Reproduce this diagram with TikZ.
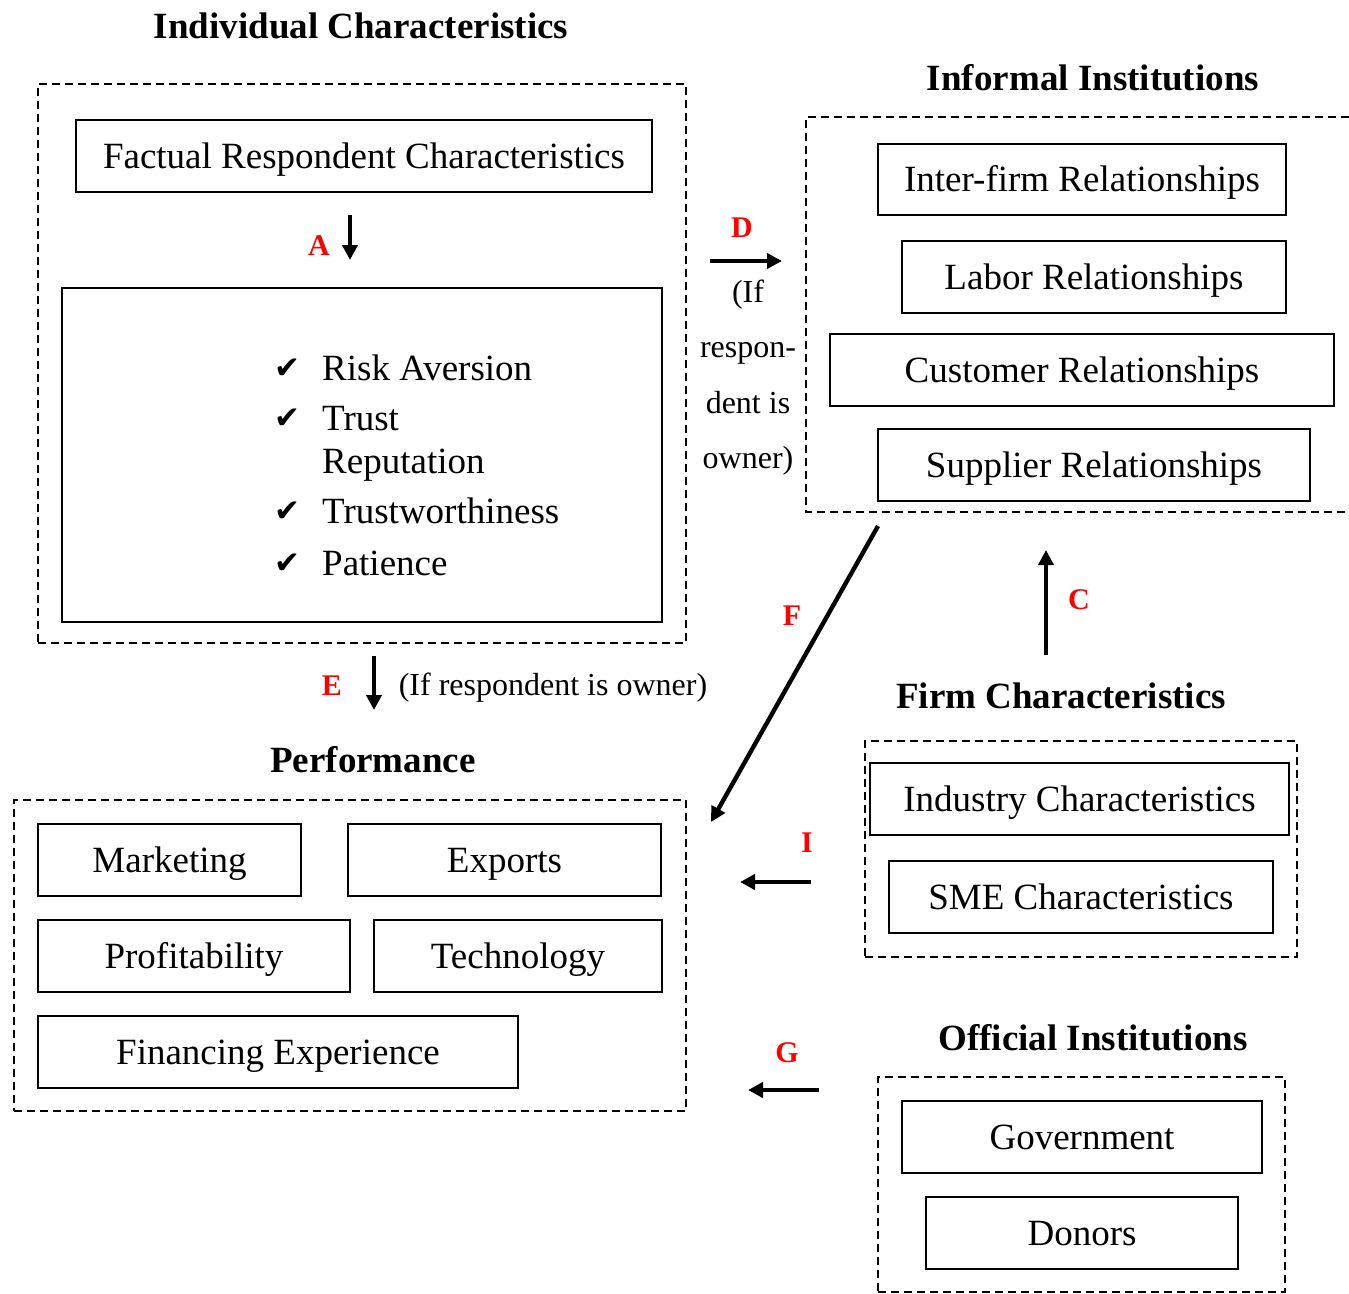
\documentclass[tikz,border=0pt]{standalone}
\usepackage{fontspec}
\setmainfont{Liberation Serif}
\newfontfamily\symfont{DejaVu Sans}
\usetikzlibrary{arrows.meta}

\begin{document}
\begin{tikzpicture}[x=1pt,y=-1pt,
  box/.style={draw, line width=1.8pt, inner sep=0pt,
    font=\fontsize{37}{44}\selectfont, text height=24.4pt, text depth=0pt},
  grp/.style={draw, line width=1.6pt, dash pattern=on 8pt off 5pt, inner sep=0pt},
  head/.style={font=\fontsize{37}{44}\selectfont\bfseries, inner sep=0pt,
    text height=24.6pt, text depth=0pt},
  lab/.style={text=red, font=\fontsize{30}{36}\selectfont\bfseries, inner sep=0pt,
    text height=20pt, text depth=0pt},
  note/.style={font=\fontsize{32}{38}\selectfont, inner sep=0pt, anchor=base},
  item/.style={font=\fontsize{37}{44}\selectfont, inner sep=0pt, anchor=base west},
  tick/.style={font=\symfont\fontsize{31}{38}\selectfont, inner sep=0pt, anchor=base west},
  arr/.style={line width=4.4pt, -{Triangle[length=15pt,width=15pt]}}]

\useasboundingbox (0,0) rectangle (1349,1293);

% ---------- Individual characteristics ----------
\node[head] (indhead) at (361,26) {Individual Characteristics};
\node[grp, minimum width=648pt, minimum height=559pt] (indgrp) at (362,363.5) {};
\node[box, minimum width=576pt, minimum height=72pt] (factual) at (364,156)
  {Factual Respondent Characteristics};
\node[box, minimum width=600pt, minimum height=334pt] (traits) at (362,455) {};

\node[tick] (t1) at (274,378) {✔};
\node[item] (i1) at (322,380) {Risk Aversion};
\node[tick] (t2) at (274,428) {✔};
\node[item] (i2) at (322,430) {Trust};
\node[item] (i3) at (322,473) {Reputation};
\node[tick] (t4) at (274,521) {✔};
\node[item] (i4) at (322,523) {Trustworthiness};
\node[tick] (t5) at (274,573) {✔};
\node[item] (i5) at (322,575) {Patience};

\coordinate (a1) at (350,215);
\coordinate (a2) at (350,260);
\draw[arr] (a1) -- (a2);
\node[lab] (labA) at (319,245) {A};

% ---------- Informal institutions ----------
\node[head] (infhead) at (1093,78) {Informal Institutions};
\coordinate (inftr) at (1349,117);
\coordinate (inftl) at (806,117);
\coordinate (infbl) at (806,512);
\coordinate (infbr) at (1349,512);
\draw[line width=1.6pt, dash pattern=on 8pt off 5pt]
  (inftr) -- (inftl) -- (infbl) -- (infbr);
\node[box, minimum width=408pt, minimum height=71pt] (interfirm) at (1082,179.5)
  {Inter-firm Relationships};
\node[box, minimum width=384pt, minimum height=72pt] (labor) at (1094,277)
  {Labor Relationships};
\node[box, minimum width=504pt, minimum height=72pt] (customer) at (1082,370)
  {Customer Relationships};
\node[box, minimum width=432pt, minimum height=72pt] (supplier) at (1094,465)
  {Supplier Relationships};

% ---------- D: individual -> informal ----------
\node[lab] (labD) at (742,227) {D};
\coordinate (d1) at (710,261);
\coordinate (d2) at (782,261);
\draw[arr] (d1) -- (d2);
\node[note] (dn1) at (748,302) {(If};
\node[note] (dn2) at (748,357) {respon-};
\node[note] (dn3) at (748,413) {dent is};
\node[note] (dn4) at (748,468) {owner)};

% ---------- E: individual -> performance ----------
\node[lab] (labE) at (332,685) {E};
\coordinate (e1) at (374,656);
\coordinate (e2) at (374,710);
\draw[arr] (e1) -- (e2);
\node[note] (en) at (553,695) {(If respondent is owner)};

% ---------- F: informal -> performance ----------
\coordinate (f1) at (878,526);
\coordinate (f2) at (711,822);
\draw[arr] (f1) -- (f2);
\node[lab] (labF) at (792,615) {F};

% ---------- Performance ----------
\node[head] (perfhead) at (373,760) {Performance};
\node[grp, minimum width=672pt, minimum height=311pt] (perfgrp) at (350,955.5) {};
\node[box, minimum width=263pt, minimum height=72pt] (marketing) at (169.5,860) {Marketing};
\node[box, minimum width=313pt, minimum height=72pt] (exports) at (504.5,860) {Exports};
\node[box, minimum width=312pt, minimum height=72pt] (profit) at (194,956) {Profitability};
\node[box, minimum width=288pt, minimum height=72pt] (tech) at (518,956) {Technology};
\node[box, minimum width=480pt, minimum height=72pt] (finance) at (278,1052)
  {Financing Experience};

% ---------- Firm characteristics ----------
\coordinate (c1) at (1046,655);
\coordinate (c2) at (1046,550);
\draw[arr] (c1) -- (c2);
\node[lab] (labC) at (1079,599) {C};
\node[head] (firmhead) at (1061,696) {Firm Characteristics};
\node[grp, minimum width=432pt, minimum height=216pt] (firmgrp) at (1081,849) {};
\node[box, minimum width=419pt, minimum height=72pt] (industry) at (1079.5,799)
  {Industry Characteristics};
\node[box, minimum width=384pt, minimum height=72pt] (sme) at (1081,897)
  {SME Characteristics};
\node[lab] (labI) at (807,842) {I};
\coordinate (i1s) at (811,882);
\coordinate (i1e) at (740,882);
\draw[arr] (i1s) -- (i1e);

% ---------- Official institutions ----------
\node[head] (offhead) at (1093,1038) {Official Institutions};
\node[grp, minimum width=407pt, minimum height=215pt] (offgrp) at (1081.5,1184.5) {};
\node[box, minimum width=360pt, minimum height=72pt] (gov) at (1082,1137) {Government};
\node[box, minimum width=312pt, minimum height=72pt] (donors) at (1082,1233) {Donors};
\node[lab] (labG) at (787,1052) {G};
\coordinate (g1) at (819,1090);
\coordinate (g2) at (748,1090);
\draw[arr] (g1) -- (g2);

\end{tikzpicture}
\end{document}
